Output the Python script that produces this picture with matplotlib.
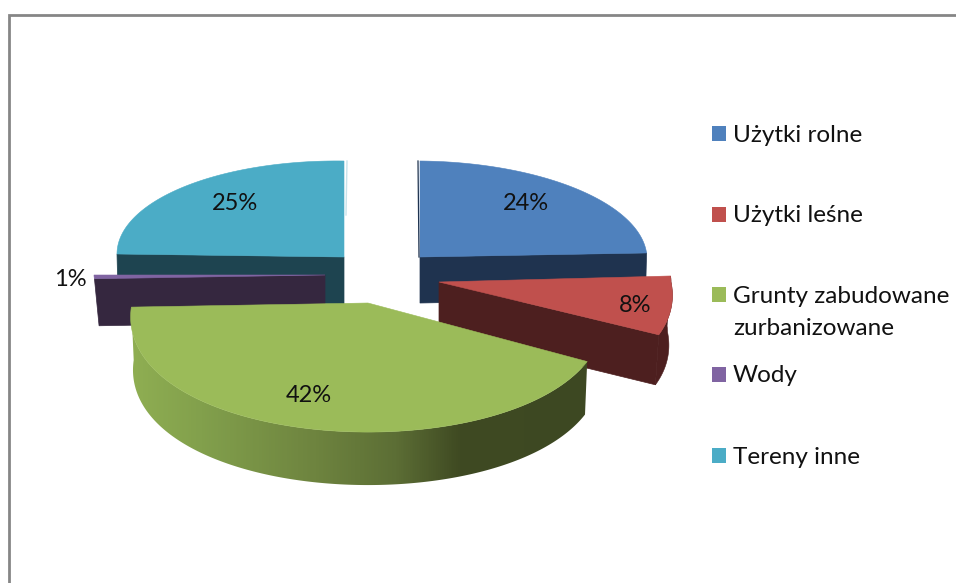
import numpy as np
import matplotlib
matplotlib.use("Agg")
import matplotlib.pyplot as plt
from matplotlib.colors import LinearSegmentedColormap
from matplotlib.patches import Polygon, Rectangle

plt.rcParams['font.family'] = ['Lato', 'DejaVu Sans']

# data
categories = ['Użytki rolne', 'Użytki leśne', 'Grunty zabudowane\nzurbanizowane', 'Wody', 'Tereny inne']
values = [24, 8, 42, 1, 25]
top_colors = ['#4F81BD', '#C0504D', '#9BBB59', '#8064A2', '#4BACC6']
wall_colors = ['#1F334F', '#4D1F1F', '#3D4A23', '#35273F', '#1E4450']

# fake 3D geometry of every exploded slice, in picture pixels
center_x = [420, 439, 368, 325, 344]
center_y = [257, 282, 303, 275, 257]
radius_x = [227, 232, 235, 231, 227]
radius_back = [96, 96, 96, 96, 96]
radius_front = [96, 124, 129, 60, 50]
perspective = [0, 0.11, 0.11, 0, 0]
tilt = [2, 0, 4, 0, 3]
skew = [0, 0, 8, 0, 0]
depth = [46, 50, 53, 47, 47]
shrink = [0.995, 0.985, 0.99, 0.98, 0.995]

label_x = [526, 635, 309, 70, 235]
label_y = [203, 305, 395, 279, 203]
legend_y = [134, 214.5, 295, 374.5, 455.5]

# slice angles, clockwise from the top
edges = np.concatenate([[0], np.cumsum(values)]) / sum(values) * 2 * np.pi


def top_point(i, theta):
    u = -np.cos(theta)
    ry = radius_front[i] if u > 0 else radius_back[i]
    sx = np.sin(theta)
    front = max(u, 0)
    x = center_x[i] + radius_x[i] * sx * (1 + perspective[i] * front) - skew[i] * front
    y = center_y[i] + ry * u + tilt[i] * sx
    return np.array([x, y])


def bottom_point(i, p):
    return np.array([center_x[i] + (p[0] - center_x[i]) * shrink[i], p[1] + depth[i]])


fig = plt.figure(figsize=(9.56, 5.83), dpi=100)
ax = fig.add_axes([0, 0, 1, 1])
ax.axis('off')

# chart border, only top and left are in the crop
ax.plot([9.5, 9.5, 956], [583, 15, 15], color='#868686', lw=2.0, solid_joinstyle='miter')

green_rim = LinearSegmentedColormap.from_list(
    'rim', [(0, '#8FAE52'), (0.15, '#82A04C'), (0.4, '#6E843F'), (0.58, '#5C6E35'), (0.72, '#3F4A22'), (1, '#3D4822')])

# back slices first, green one last
for i in [4, 0, 3, 1, 2]:
    thetas = np.linspace(edges[i], edges[i + 1], 200)
    arc = np.array([top_point(i, t) for t in thetas])
    apex = np.array([center_x[i], center_y[i]], dtype=float)

    # outer rim
    if i in (1, 2):
        lower = np.array([bottom_point(i, p) for p in arc])
        rim = np.vstack([arc, lower[::-1]])
        if i == 2:
            outline = Polygon(rim, facecolor='none', edgecolor='none')
            ax.add_patch(outline)
            gradient = ax.imshow(np.linspace(0, 1, 456).reshape(1, -1), cmap=green_rim, aspect='auto',
                                 extent=(132, 588, 500, 300), zorder=1)
            gradient.set_clip_path(outline)
        else:
            ax.add_patch(Polygon(rim, facecolor=wall_colors[i], edgecolor=wall_colors[i], lw=0.4))

    # cut face that looks at the viewer
    if i != 2:
        edge_end = arc[0] if i in (3, 4) else arc[-1]
        ax.add_patch(Polygon([apex, edge_end, bottom_point(i, edge_end), bottom_point(i, apex)],
                             facecolor=wall_colors[i], edgecolor=wall_colors[i], lw=0.5))

    ax.add_patch(Polygon(np.vstack([apex, arc]), facecolor=top_colors[i], edgecolor=top_colors[i], lw=0.4, zorder=1.5 if i == 2 else 1))

# thin side faces along the gap at the back
ax.plot([center_x[0] - 1, center_x[0] - 2], [center_y[0], center_y[0] - radius_back[0]], color=wall_colors[0], lw=0.9)
ax.plot([center_x[4] + 2, center_x[4] + 3], [center_y[4] - 42, center_y[4] - radius_back[4]], color='#C9E3EB', lw=1.0)

# data labels
for v, x, y in zip(values, label_x, label_y):
    ax.text(x, y, f'{v}%', ha='center', va='center', fontsize=17, color='#111111')

# legend
for name, color, y in zip(categories, top_colors, legend_y):
    ax.add_patch(Rectangle((712, y - 8), 14, 15, facecolor=color, edgecolor='none'))
    ax.text(733, y - 9, name, ha='left', va='top', fontsize=17.5, color='#111111', linespacing=1.62)

ax.set_xlim(0, 956)
ax.set_ylim(583, 0)
fig.savefig('out.png', dpi=100)
